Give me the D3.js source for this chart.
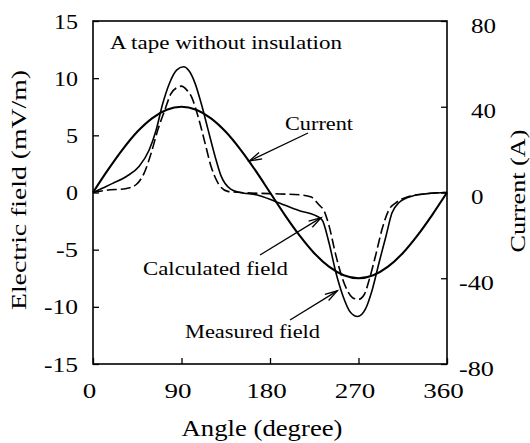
<!DOCTYPE html>
<html><head><meta charset="utf-8">
<script src="https://cdn.jsdelivr.net/npm/d3@7"></script>
<style>
html,body{margin:0;padding:0;background:#fff;}
svg{display:block;}
text{font-family:"Liberation Serif","Times New Roman",serif;fill:#000;}
</style>
</head><body>
<svg id="c" width="530" height="443"></svg>
<script>
// ---- data ----
const currentAngles = [0,15,30,45,60,75,90,105,120,135,150,165,180,195,210,225,240,255,270,285,300,315,330,345,360];
const currentValues = [0,10.4,20,28.3,34.6,38.6,40,38.6,34.6,28.3,20,10.4,0,-10.4,-20,-28.3,-34.6,-38.6,-40,-38.6,-34.6,-28.3,-20,-10.4,0];

const measuredAngles = [0,10,20,34,47,57,64,71,78,85,92,98,104,110,117,124,130,140,150,166,186,210,226,233,240,247,254,262,269,277,284,291,298,304,311,325,340,360];
const measuredValues = [0,0.4,0.8,1.4,2.3,3.7,5.4,7.8,9.6,10.7,11.0,10.6,9.5,7.8,5.5,3.2,1.5,0.3,0,-0.2,-0.8,-1.6,-2.0,-2.4,-4.4,-7.0,-9.0,-10.5,-10.85,-10.2,-8.5,-6.1,-3.8,-1.8,-0.9,-0.3,-0.1,0];

const calcAngles = [0,14,34,44,52,59,66,73,79,86,90,95,100,107,114,120,127,137,150,180,210,222,230,235,240,247,254,264,270,276,281,288,294,301,308,321,340,360];
const calcValues = [0,0.2,0.35,0.7,1.7,3.4,5.5,7.2,8.6,9.2,9.3,9.0,8.4,6.6,4.3,2.3,0.85,0.1,0,-0.1,-0.2,-0.4,-1.1,-1.6,-2.9,-5.5,-7.6,-9.2,-9.35,-8.9,-7.6,-5.3,-3.2,-1.5,-0.9,-0.35,-0.1,0];

const angleTicks = [0,90,180,270,360];
const fieldTicks = [-15,-10,-5,0,5,10,15];
const currentTicks = [-80,-40,0,40,80];

const annotationLabels = ["Current","Calculated field","Measured field"];
const annotationTipAngles = [159,232,248.5];
const annotationTipFields = [2.75,-2.2,-8.6];

// ---- layout ----
const L = 93, R = 447, T = 21, B = 364;
const x = d3.scaleLinear().domain([0,360]).range([L,R]);
const yL = d3.scaleLinear().domain([-15,15]).range([B,T]);
const yR = d3.scaleLinear().domain([-80,80]).range([B,T]);
const svg = d3.select("#c");
const fmt = d => String(d);   // plain hyphen minus, as in the reference

function digitLen(s, dw, mw){ let n=0; for (const c of String(s)) n += (c==='-'? mw : dw); return n; }

// axes
const gx = svg.append("g").attr("transform",`translate(0,${B})`)
  .call(d3.axisBottom(x).tickValues(angleTicks).tickFormat(fmt).tickSizeInner(-6).tickSizeOuter(0).tickPadding(18));
const gl = svg.append("g").attr("transform",`translate(${L},0)`)
  .call(d3.axisLeft(yL).tickValues(fieldTicks).tickFormat(fmt).tickSizeInner(-6).tickSizeOuter(0).tickPadding(15));
const gr = svg.append("g").attr("transform",`translate(${R},0)`)
  .call(d3.axisRight(yR).tickValues(currentTicks).tickFormat(fmt).tickSizeInner(-6).tickSizeOuter(0).tickPadding(24));
[gx,gl,gr].forEach(g=>{
  g.select(".domain").remove();
  g.selectAll(".tick line").attr("stroke","#000").attr("stroke-width",1.3);
  g.selectAll("text").attr("font-size",22).attr("fill","#000")
    .attr("font-family",'"Liberation Serif","Times New Roman",serif')
    .attr("lengthAdjust","spacingAndGlyphs");
});
gx.selectAll("text").attr("dx",-4).attr("textLength",d=>digitLen(d,13.5,10));
gl.selectAll("text").attr("textLength",d=>digitLen(d,12,10));
gr.selectAll("text").attr("y",4).attr("x",d=>d<0?12:24).attr("textLength",d=>digitLen(d,12.5,10));

// frame
svg.append("rect").attr("x",L).attr("y",T).attr("width",R-L).attr("height",B-T)
  .attr("fill","none").attr("stroke","#000").attr("stroke-width",1.6);

// series
const lineL = d3.line().x(d=>x(d[0])).y(d=>yL(d[1])).curve(d3.curveMonotoneX);
const lineR = d3.line().x(d=>x(d[0])).y(d=>yR(d[1])).curve(d3.curveMonotoneX);

svg.append("path").datum(d3.zip(currentAngles,currentValues)).attr("d",lineR)
  .attr("fill","none").attr("stroke","#000").attr("stroke-width",2.1);
svg.append("path").datum(d3.zip(measuredAngles,measuredValues)).attr("d",lineL)
  .attr("fill","none").attr("stroke","#000").attr("stroke-width",1.6);
svg.append("path").datum(d3.zip(calcAngles,calcValues)).attr("d",lineL)
  .attr("fill","none").attr("stroke","#000").attr("stroke-width",1.6)
  .attr("stroke-dasharray","10,4");

// annotations
const labelPos = [[285,130,68],[143,275,145],[185,338,135]];   // text x, baseline y, length
const tailPos = [[308,133],[260,255],[290,320]];
annotationLabels.forEach((lab,i)=>{
  const [tx,ty,tl] = labelPos[i];
  svg.append("text").attr("x",tx).attr("y",ty).attr("font-size",19)
    .attr("textLength",tl).attr("lengthAdjust","spacingAndGlyphs").text(lab);
  const isCur = i===0;
  const px = x(annotationTipAngles[i]);
  const py = isCur ? yR(annotationTipFields[i]*80/15) : yL(annotationTipFields[i]);
  const [sx,sy] = tailPos[i];
  svg.append("line").attr("x1",sx).attr("y1",sy).attr("x2",px).attr("y2",py)
    .attr("stroke","#000").attr("stroke-width",1.3);
  const ang = Math.atan2(sy-py, sx-px), len = 13, spread = 0.28;
  const p1 = [px+len*Math.cos(ang+spread), py+len*Math.sin(ang+spread)];
  const p2 = [px+len*Math.cos(ang-spread), py+len*Math.sin(ang-spread)];
  svg.append("path").attr("d",`M${p1[0]},${p1[1]}L${px},${py}L${p2[0]},${p2[1]}`)
    .attr("fill","none").attr("stroke","#000").attr("stroke-width",1.3);
});

// titles
svg.append("text").attr("x",110).attr("y",49).attr("font-size",18)
  .attr("textLength",232).attr("lengthAdjust","spacingAndGlyphs").text("A tape without insulation");
svg.append("text").attr("x",262).attr("y",436).attr("font-size",23).attr("text-anchor","middle")
  .attr("textLength",161).attr("lengthAdjust","spacingAndGlyphs").text("Angle (degree)");
svg.append("text").attr("transform","translate(26,190) rotate(-90)").attr("font-size",22).attr("text-anchor","middle")
  .attr("textLength",240).attr("lengthAdjust","spacingAndGlyphs").text("Electric field (mV/m)");
svg.append("text").attr("transform","translate(525,191) rotate(-90)").attr("font-size",22).attr("text-anchor","middle")
  .attr("textLength",123).attr("lengthAdjust","spacingAndGlyphs").text("Current (A)");
</script>
</body></html>
